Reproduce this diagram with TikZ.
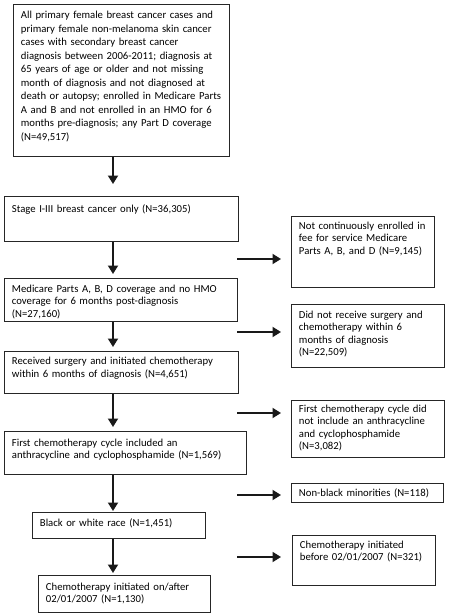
\documentclass[tikz,border=0pt]{standalone}
\usepackage{fontspec}
\setmainfont{Carlito}
\usetikzlibrary{arrows.meta}
\newcommand\flowbox[8][]{%
  \pgfmathsetmacro\bxw{#5-#3-15}%
  \pgfmathsetmacro\bxd{#6-#4-#7}%
  \node[box, text width=\bxw pt, text height=#7pt, text depth=\bxd pt, #1] (#2) at (#3,#4) {#8};}
\begin{document}
\begin{tikzpicture}[x=1pt,y=-1pt,
  box/.style={draw=black!85, line width=0.9pt, anchor=north west, inner xsep=7.5pt, inner ysep=0pt,
    align=left, text=black, font=\fontsize{10.7}{12.5}\selectfont},
  varr/.style={line width=1.8pt, draw=black!90, -{Triangle[length=8.5pt,width=10pt]}},
  harr/.style={line width=1.8pt, draw=black!90, -{Triangle[length=8.5pt,width=10pt]}}]
\useasboundingbox (0,0) rectangle (448,616);
\fill[white] (0,0) rectangle (448,616);
% left column
\flowbox[font=\fontsize{10.7}{13.5}\selectfont]{b1}{13}{4}{229}{156}{14.5}{All primary female breast cancer cases and\\primary female non-melanoma skin cancer\\cases with secondary breast cancer\\diagnosis between 2006-2011; diagnosis at\\65 years of age or older and not missing\\month of diagnosis and not diagnosed at\\death or autopsy; enrolled in Medicare Parts\\A and B and not enrolled in an HMO for 6\\months pre-diagnosis; any Part D coverage\\(N=49,517)}
\flowbox{b2}{4}{196}{238}{241}{16}{Stage I-III breast cancer only (N=36,305)}
\flowbox{b3}{4}{278}{237}{321}{14}{Medicare Parts A, B, D coverage and no HMO\\coverage for 6 months post-diagnosis\\(N=27,160)}
\flowbox{b4}{4}{351}{238}{393}{13.5}{Received surgery and initiated chemotherapy\\within 6 months of diagnosis (N=4,651)}
\flowbox{b5}{4}{431}{246}{474}{15}{First chemotherapy cycle included an\\anthracycline and cyclophosphamide (N=1,569)}
\flowbox{b6}{32}{512}{205}{538}{14}{Black or white race (N=1,451)}
\flowbox{b7}{38}{575}{210}{612}{15}{Chemotherapy initiated on/after\\02/01/2007 (N=1,130)}
% right column
\flowbox{r1}{291}{216}{434}{287}{13}{Not continuously enrolled in\\fee for service Medicare\\Parts A, B, and D (N=9,145)}
\flowbox{r2}{291}{304}{444}{367}{14}{Did not receive surgery and\\chemotherapy within 6\\months of diagnosis\\(N=22,509)}
\flowbox{r3}{291}{400}{444}{457}{12}{First chemotherapy cycle did\\not include an anthracycline\\and cyclophosphamide\\(N=3,082)}
\flowbox{r4}{291}{483}{443}{502}{13}{Non-black minorities (N=118)}
\flowbox{r5}{292}{535}{435}{585}{13}{Chemotherapy initiated\\before 02/01/2007 (N=321)}
% vertical arrows
\coordinate (ax) at (113,0);
\draw[varr, shorten >=12pt] (b1.south -| ax) -- (b2.north -| ax);
\draw[varr, shorten >=4pt] (b2.south -| ax) -- (b3.north -| ax);
\draw[varr, shorten >=4pt] (b3.south -| ax) -- (b4.north -| ax);
\draw[varr, shorten >=4pt] (b4.south -| ax) -- (b5.north -| ax);
\draw[varr, shorten >=1pt] (b5.south -| ax) -- (b6.north -| ax);
\draw[varr, shorten >=2pt] (b6.south -| ax) -- (b7.north -| ax);
% side arrows
\coordinate (s1a) at (237,259); \coordinate (s1b) at (281,259);
\coordinate (s2a) at (237,332); \coordinate (s2b) at (281,332);
\coordinate (s3a) at (237,413); \coordinate (s3b) at (281,413);
\coordinate (s4a) at (237,495); \coordinate (s4b) at (281,495);
\coordinate (s5a) at (237,557); \coordinate (s5b) at (281,557);
\draw[harr] (s1a) -- (s1b);
\draw[harr] (s2a) -- (s2b);
\draw[harr] (s3a) -- (s3b);
\draw[harr] (s4a) -- (s4b);
\draw[harr] (s5a) -- (s5b);
\end{tikzpicture}
\end{document}
